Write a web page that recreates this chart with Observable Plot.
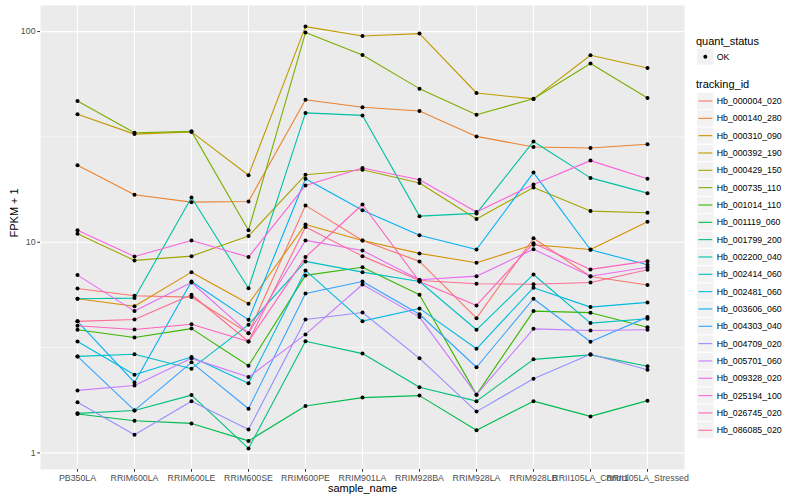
<!DOCTYPE html>
<html><head><meta charset="utf-8">
<script src="https://cdn.jsdelivr.net/npm/d3@7"></script>
<script src="https://cdn.jsdelivr.net/npm/@observablehq/plot@0.6"></script>
<style>
body{margin:0;background:#fff;}
#chart{width:800px;height:500px;}
</style></head><body><div id="chart"></div>
<script>
// ---- data ----
const samples = ["PB350LA","RRIM600LA","RRIM600LE","RRIM600SE","RRIM600PE","RRIM901LA","RRIM928BA","RRIM928LA","RRIM928LB","RRII105LA_Control","RRII105LA_Stressed"];
const trackingIds = ["Hb_000004_020","Hb_000140_280","Hb_000310_090","Hb_000392_190","Hb_000429_150","Hb_000735_110","Hb_001014_110","Hb_001119_060","Hb_001799_200","Hb_002200_040","Hb_002414_060","Hb_002481_060","Hb_003606_060","Hb_004303_040","Hb_004709_020","Hb_005701_060","Hb_009328_020","Hb_025194_100","Hb_026745_020","Hb_086085_020"];
const quantStatus = ["OK"];
const yTicks = [1, 10, 100];

// FPKM + 1 per sample (same order as samples)
const Hb_000004_020 = [6.03, 5.57, 5.49, 3.70, 14.96, 10.2, 8.11, 4.36, 10.45, 6.88, 6.26];
const Hb_000140_280 = [23.2, 16.8, 15.5, 15.6, 47.5, 43.7, 42.0, 31.8, 28.3, 28.0, 29.2];
const Hb_000310_090 = [5.39, 4.97, 7.21, 5.10, 12.15, 10.2, 8.85, 7.99, 9.73, 9.24, 12.5];
const Hb_000392_190 = [40.5, 32.6, 33.4, 20.8, 105.6, 95.3, 97.8, 51.1, 47.9, 77.2, 67.2];
const Hb_000429_150 = [10.97, 8.20, 8.59, 10.7, 20.9, 22.1, 19.1, 12.9, 18.2, 14.05, 13.8];
const Hb_000735_110 = [46.8, 33.1, 33.6, 11.4, 98.9, 77.4, 53.6, 40.3, 48.0, 70.5, 48.4];
const Hb_001014_110 = [3.84, 3.53, 3.89, 2.59, 6.96, 7.61, 5.63, 1.89, 4.71, 4.63, 3.95];
const Hb_001119_060 = [1.53, 1.42, 1.38, 1.14, 1.67, 1.83, 1.87, 1.28, 1.76, 1.49, 1.77];
const Hb_001799_200 = [1.54, 1.59, 1.88, 1.05, 3.39, 2.96, 2.05, 1.76, 2.78, 2.92, 2.58];
const Hb_002200_040 = [5.39, 5.43, 16.3, 6.05, 41.1, 40.0, 13.3, 13.7, 30.1, 20.2, 17.1];
const Hb_002414_060 = [2.87, 2.94, 2.51, 4.06, 8.11, 7.21, 6.51, 3.84, 7.03, 4.13, 4.33];
const Hb_002481_060 = [3.38, 2.35, 2.85, 2.14, 7.35, 4.22, 4.85, 3.12, 6.08, 4.92, 5.18];
const Hb_003606_060 = [4.21, 2.16, 6.51, 4.28, 20.0, 14.2, 10.8, 9.24, 21.4, 9.21, 7.82];
const Hb_004303_040 = [2.87, 1.59, 2.69, 1.62, 5.71, 6.51, 4.55, 2.55, 5.39, 3.37, 4.41];
const Hb_004709_020 = [1.74, 1.22, 1.76, 1.29, 4.30, 4.64, 2.81, 1.57, 2.25, 2.94, 2.48];
const Hb_005701_060 = [1.98, 2.09, 2.81, 2.29, 3.65, 6.30, 4.41, 1.89, 3.88, 3.81, 3.84];
const Hb_009328_020 = [6.98, 4.71, 6.44, 3.70, 10.2, 9.14, 6.63, 6.90, 9.27, 6.90, 7.61];
const Hb_025194_100 = [11.4, 8.56, 10.2, 8.50, 18.6, 22.5, 19.8, 13.9, 18.8, 24.4, 20.0];
const Hb_026745_020 = [4.01, 3.85, 4.08, 3.38, 8.50, 15.1, 6.51, 5.01, 9.90, 7.43, 8.13];
const Hb_086085_020 = [4.21, 4.30, 5.63, 3.38, 11.8, 8.59, 6.58, 6.35, 6.32, 6.44, 7.40];

const seriesValues = [Hb_000004_020, Hb_000140_280, Hb_000310_090, Hb_000392_190, Hb_000429_150,
  Hb_000735_110, Hb_001014_110, Hb_001119_060, Hb_001799_200, Hb_002200_040, Hb_002414_060,
  Hb_002481_060, Hb_003606_060, Hb_004303_040, Hb_004709_020, Hb_005701_060, Hb_009328_020,
  Hb_025194_100, Hb_026745_020, Hb_086085_020];

// ---- style ----
const palette = ["#F8766D","#EA8331","#D89000","#C09B00","#A3A500","#7CAE00","#39B600","#00BB4E","#00BF7D","#00C1A3","#00BFC4","#00BAE0","#00B0F6","#35A2FF","#9590FF","#C77CFF","#E76BF3","#FA62DB","#FF62BC","#FF6C91"];
const font = "'Liberation Sans', Arial, Helvetica, sans-serif";

const rows = [];
trackingIds.forEach((id, i) => seriesValues[i].forEach((v, j) =>
  rows.push({tracking_id: id, sample_name: samples[j], fpkm1: v, quant_status: quantStatus[0]})));

const logs = rows.map(d => Math.log10(d.fpkm1));
const lo = d3.min(logs), hi = d3.max(logs), pad = (hi - lo) * 0.05;
const yDomain = [10 ** (lo - pad), 10 ** (hi + pad)];
const minorTicks = [10 ** 0.5, 10 ** 1.5];

const plot = Plot.plot({
  width: 800, height: 500,
  marginLeft: 40, marginTop: 5, marginRight: 116, marginBottom: 31,
  style: {fontFamily: font, background: "#fff", overflow: "visible"},
  x: {type: "point", domain: samples, padding: 0.6, axis: null},
  y: {type: "log", domain: yDomain, axis: null},
  color: {domain: trackingIds, range: palette},
  marks: [
    Plot.frame({fill: "#EBEBEB", stroke: null}),
    Plot.gridY(minorTicks, {stroke: "#fff", strokeOpacity: 1, strokeWidth: 0.55}),
    Plot.gridY(yTicks, {stroke: "#fff", strokeOpacity: 1, strokeWidth: 1.1}),
    Plot.gridX(samples, {stroke: "#fff", strokeOpacity: 1, strokeWidth: 1.1}),
    Plot.line(rows, {x: "sample_name", y: "fpkm1", z: "tracking_id", stroke: "tracking_id", strokeWidth: 1.1}),
    Plot.dot(rows, {x: "sample_name", y: "fpkm1", r: 2, fill: "black", stroke: null}),
    Plot.axisX(samples, {tickSize: 2.75, tickPadding: 2.2, fontSize: 8.8, stroke: "#333333", fill: "#4D4D4D", label: null}),
    Plot.axisY(yTicks, {tickSize: 2.75, tickPadding: 2.2, fontSize: 8.8, stroke: "#333333", fill: "#4D4D4D", label: null, tickFormat: d => String(d)}),
    Plot.text(["sample_name"], {frameAnchor: "bottom", dy: 19.3, fontSize: 11, fill: "black", lineAnchor: "middle"}),
    Plot.text(["FPKM + 1"], {frameAnchor: "left", dx: -26, rotate: -90, fontSize: 11, fill: "black", lineAnchor: "middle"})
  ]
});

// ---- legend (ggplot-style, to the right of the panel) ----
const svg = d3.select(plot);
const lg = svg.append("g").attr("font-family", font).attr("text-anchor", "start").attr("fill", "black");
const keyX = 696.7, keyS = 17.28, txtX = 716.7;
lg.append("text").attr("x", 696).attr("y", 40.7).attr("dy", "0.35em").attr("font-size", 11).text("quant_status");
lg.append("rect").attr("x", keyX).attr("y", 56.7 - keyS/2).attr("width", keyS).attr("height", keyS).attr("fill", "#F2F2F2").attr("stroke", "#fff");
lg.append("circle").attr("cx", keyX + keyS/2).attr("cy", 56.7).attr("r", 2).attr("fill", "black");
lg.append("text").attr("x", txtX).attr("y", 56.7).attr("dy", "0.35em").attr("font-size", 8.8).text(quantStatus[0]);
lg.append("text").attr("x", 696).attr("y", 84.3).attr("dy", "0.35em").attr("font-size", 11).text("tracking_id");
trackingIds.forEach((id, i) => {
  const cy = 101 + i * 17.33;
  lg.append("rect").attr("x", keyX).attr("y", cy - keyS/2).attr("width", keyS).attr("height", keyS).attr("fill", "#F2F2F2").attr("stroke", "#fff");
  lg.append("line").attr("x1", keyX + 1.7).attr("x2", keyX + keyS - 1.7).attr("y1", cy).attr("y2", cy).attr("stroke", palette[i]).attr("stroke-width", 1.1);
  lg.append("text").attr("x", txtX).attr("y", cy).attr("dy", "0.35em").attr("font-size", 8.8).text(id);
});

document.getElementById("chart").appendChild(plot);
</script></body></html>
